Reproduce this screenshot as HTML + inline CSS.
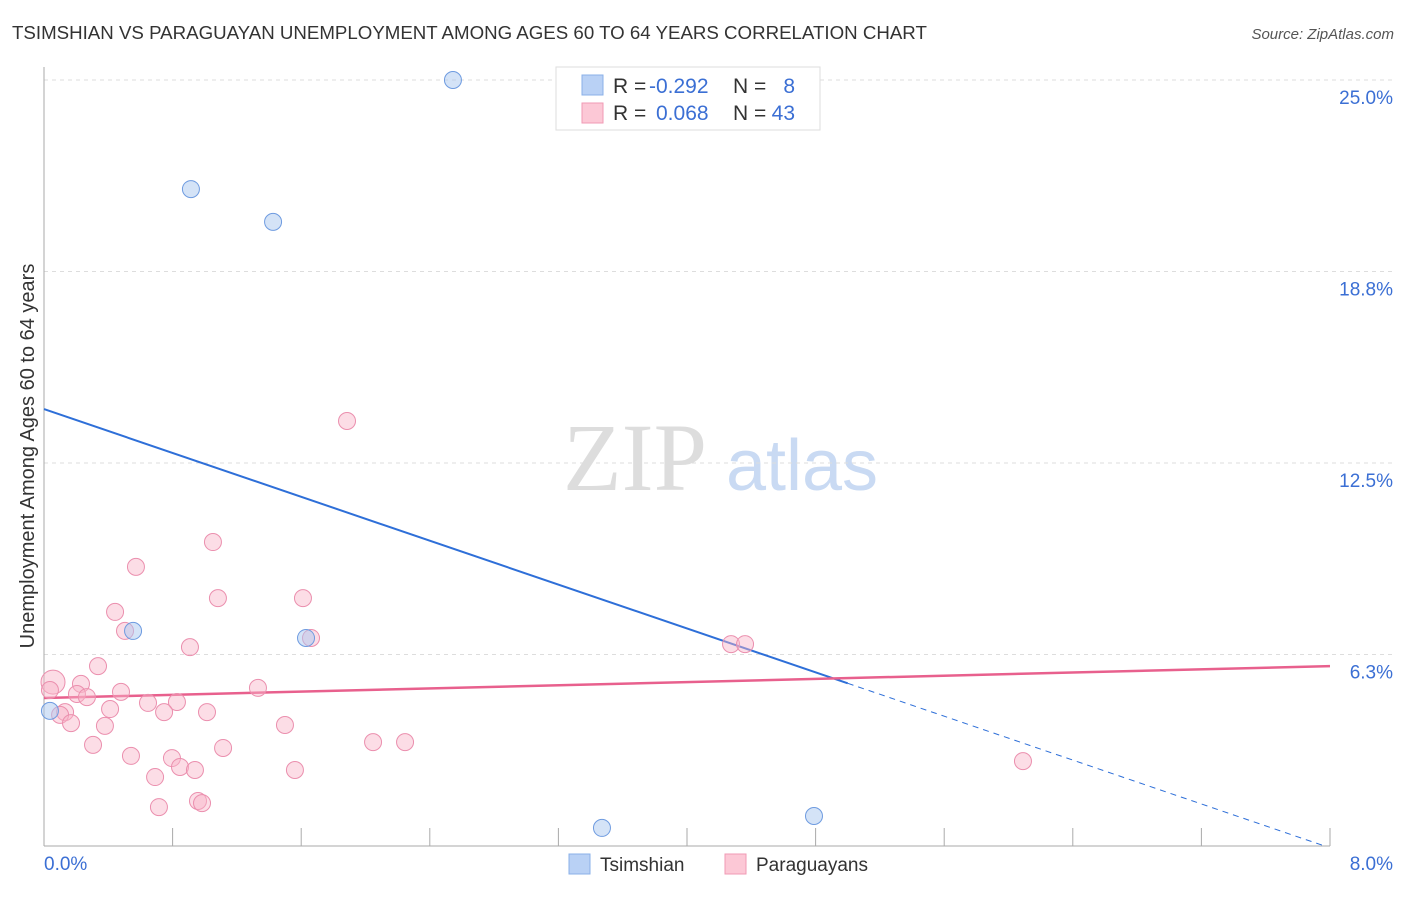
<!DOCTYPE html>
<html><head><meta charset="utf-8"><style>
body{margin:0;background:#fff;font-family:"Liberation Sans",sans-serif;}
svg text{font-family:"Liberation Sans",sans-serif;}
</style></head><body>
<svg id="chart" width="1406" height="892">
<text x="12" y="39" font-size="18.7" fill="#333">TSIMSHIAN VS PARAGUAYAN UNEMPLOYMENT AMONG AGES 60 TO 64 YEARS CORRELATION CHART</text>
<text x="1394" y="39" font-size="15" fill="#555" text-anchor="end" font-style="italic">Source: ZipAtlas.com</text>
<g>
<text x="635" y="490" font-size="96" fill="#ddd" text-anchor="middle" font-family="Liberation Serif,serif" style="font-family:'Liberation Serif',serif">ZIP</text>
<text x="802" y="490" font-size="72" fill="#c9daf3" text-anchor="middle">atlas</text>
</g>
<g id="grid"></g><g id="axes"></g><g id="lines"></g><g id="points"></g>
<text transform="translate(34,456) rotate(-90)" font-size="20" fill="#333" text-anchor="middle">Unemployment Among Ages 60 to 64 years</text>
<g>
<rect x="556" y="67" width="264" height="63" fill="#fff" stroke="#ddd"/>
<rect x="582" y="75" width="21" height="20" fill="#b9d1f5" stroke="#8ab0e8"/>
<rect x="582" y="103" width="21" height="20" fill="#fcc8d6" stroke="#f09ab4"/>
<text x="613" y="93" font-size="21" fill="#333">R =</text><text x="649" y="93" font-size="21" fill="#3b6fd4">-0.292</text>
<text x="733" y="93" font-size="21" fill="#333">N =</text><text x="795" y="93" font-size="21" fill="#3b6fd4" text-anchor="end">8</text>
<text x="613" y="120" font-size="21" fill="#333">R =</text><text x="656" y="120" font-size="21" fill="#3b6fd4">0.068</text>
<text x="733" y="120" font-size="21" fill="#333">N =</text><text x="795" y="120" font-size="21" fill="#3b6fd4" text-anchor="end">43</text>
</g>
<g>
<rect x="569" y="854" width="21" height="20" fill="#b9d1f5" stroke="#8ab0e8"/>
<text x="600" y="871" font-size="19" fill="#333">Tsimshian</text>
<rect x="725" y="854" width="21" height="20" fill="#fcc8d6" stroke="#f09ab4"/>
<text x="756" y="871" font-size="19" fill="#333">Paraguayans</text>
</g>
</svg>
<script>
const yTicks=[6.25,12.5,18.75,25.0];
const yTickLabels=["6.3%","12.5%","18.8%","25.0%"];
const xTickLabels=["0.0%","8.0%"];
const tsimX=[2.544,0.914,1.425,0.554,1.630,3.471,4.790,0.037];
const tsimY=[25.0,21.44,20.37,7.02,6.79,0.59,0.98,4.41];
const parX=[0.572,1.082,1.611,0.442,0.504,1.661,0.908,0.336,0.056,0.230,0.205,0.267,0.479,1.331,0.037,0.131,0.100,0.168,0.411,0.647,0.827,0.747,1.014,0.379,1.499,0.305,2.047,2.246,1.114,0.541,0.796,0.846,0.939,1.561,0.691,0.958,0.983,0.715,1.885,1.051,4.274,4.361,6.090];
const parY=[9.11,8.09,8.09,7.64,7.02,6.79,6.49,5.87,5.35,5.29,4.96,4.86,5.03,5.16,5.09,4.37,4.28,4.01,4.47,4.67,4.70,4.37,4.37,3.92,3.95,3.30,3.39,3.39,3.20,2.94,2.87,2.58,2.48,2.48,2.25,1.47,1.40,1.27,13.87,9.92,6.59,6.59,2.77];
const tsimTrend=[14.26,-1.79];
const parTrend=[4.83,0.13];
const tsimSolidEnd=5.0;
const X=v=>44+v*160.75, Y=v=>846-v*30.64;
const NS="http://www.w3.org/2000/svg";
function mk(p,t,a){const e=document.createElementNS(NS,t);for(const k in a)e.setAttribute(k,a[k]);document.getElementById(p).appendChild(e);return e;}
yTicks.forEach((t,i)=>{
 const l=mk('grid','line',{x1:44,x2:1392,y1:Y(t),y2:Y(t),stroke:'#ddd','stroke-dasharray':'4,4'});
 
 
 const tx=mk('grid','text',{x:1393,y:Y(t)+24,'font-size':19,fill:'#3b6fd4','text-anchor':'end'});tx.textContent=yTickLabels[i];
 
 
});
mk('axes','line',{x1:44,x2:44,y1:67,y2:846,stroke:'#aaa'});
mk('axes','line',{x1:44,x2:1330,y1:846,y2:846,stroke:'#aaa'});
for(let i=1;i<=10;i++){const t=mk('axes','line',{x1:X(i*0.8),x2:X(i*0.8),y1:828,y2:846,stroke:'#aaa'});
 
 }
const xl0=mk('axes','text',{x:44,y:870,'font-size':19,fill:'#3b6fd4'});xl0.textContent=xTickLabels[0];


const xl1=mk('axes','text',{x:1393,y:870,'font-size':19,fill:'#3b6fd4','text-anchor':'end'});xl1.textContent=xTickLabels[1];


const tl=x=>tsimTrend[0]+tsimTrend[1]*x, pl=x=>parTrend[0]+parTrend[1]*x;
const b1=mk('lines','line',{x1:X(0),y1:Y(tl(0)),x2:X(tsimSolidEnd),y2:Y(tl(tsimSolidEnd)),stroke:'#2e6fd8','stroke-width':2});


const xe=tsimTrend[0]/-tsimTrend[1];
const b2=mk('lines','line',{x1:X(tsimSolidEnd),y1:Y(tl(tsimSolidEnd)),x2:X(xe),y2:Y(0),stroke:'#2e6fd8','stroke-width':1,'stroke-dasharray':'6,5'});


const p1=mk('lines','line',{x1:X(0),y1:Y(pl(0)),x2:X(8),y2:Y(pl(8)),stroke:'#e8608d','stroke-width':2.5});


parX.forEach((x,i)=>{const c=mk('points','circle',{cx:X(x),cy:Y(parY[i]),r:i===8?12:8.5,fill:'rgba(248,180,200,0.45)',stroke:'#eb8fae','stroke-width':1});
 
 });
tsimX.forEach((x,i)=>{const c=mk('points','circle',{cx:X(x),cy:Y(tsimY[i]),r:8.5,fill:'rgba(170,200,240,0.5)',stroke:'#6e9be0','stroke-width':1});
 
 });
</script>
</body></html>
